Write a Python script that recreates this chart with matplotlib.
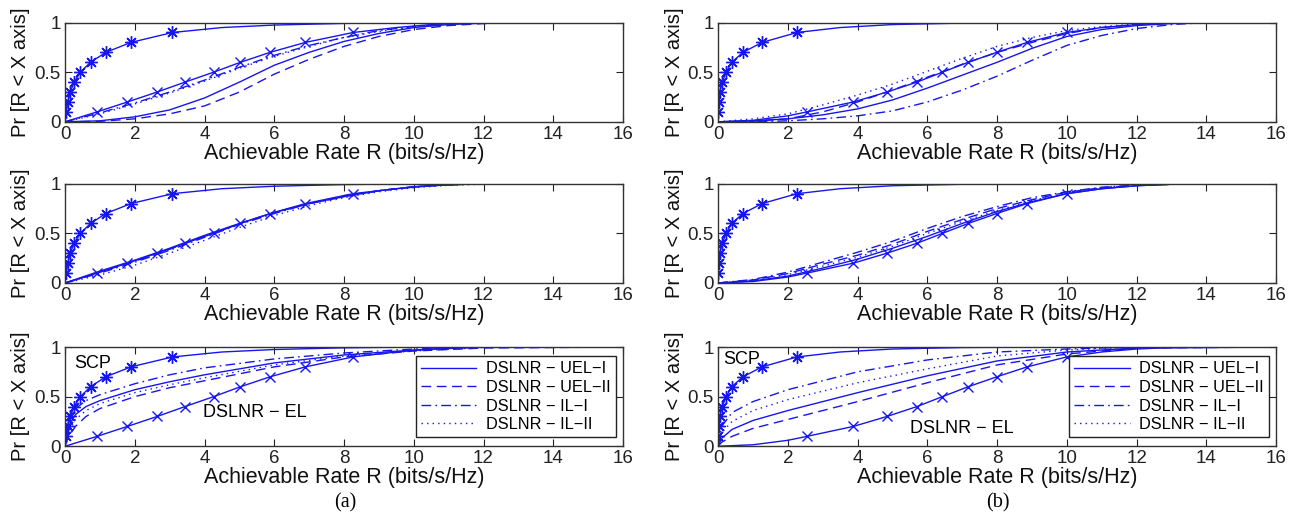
import matplotlib
matplotlib.use("Agg")
from matplotlib import pyplot as plt

plt.rcParams["font.family"] = ["Liberation Sans", "DejaVu Sans"]

LEVELS = [0.1, 0.2, 0.3, 0.4, 0.5, 0.6, 0.7, 0.8, 0.9]
LEGEND_LABELS = ["DSLNR \u2212 UEL\u2212I", "DSLNR \u2212 UEL\u2212II",
                 "DSLNR \u2212 IL\u2212I", "DSLNR \u2212 IL\u2212II"]

# ---- SCP / EL curves (markers sit at the 0.1 ... 0.9 quantiles)
SCP_A_MARK = [0.03, 0.08, 0.15, 0.26, 0.44, 0.73, 1.17, 1.89, 3.08]
SCP_A_X = [0, 0.03, 0.08, 0.15, 0.26, 0.44, 0.73, 1.17, 1.89, 3.08, 4.5, 6.0, 8.0, 10.0, 16.0]
SCP_A_Y = [0, 0.1, 0.2, 0.3, 0.4, 0.5, 0.6, 0.7, 0.8, 0.9, 0.95, 0.975, 0.992, 1.0, 1.0]
EL_A_MARK = [0.92, 1.79, 2.64, 3.44, 4.26, 5.03, 5.88, 6.89, 8.26]
EL_A_X = [0, 0.92, 1.79, 2.64, 3.44, 4.26, 5.03, 5.88, 6.89, 8.26, 9.5, 10.5, 11.5, 12.5, 16.0]
EL_A_Y = [0, 0.1, 0.2, 0.3, 0.4, 0.5, 0.6, 0.7, 0.8, 0.9, 0.95, 0.98, 0.995, 1.0, 1.0]

SCP_B_MARK = [0.005, 0.01, 0.04, 0.12, 0.23, 0.39, 0.71, 1.26, 2.26]
SCP_B_X = [0, 0.005, 0.01, 0.04, 0.12, 0.23, 0.39, 0.71, 1.26, 2.26, 3.5, 5.0, 7.0, 9.0, 16.0]
SCP_B_Y = [0, 0.1, 0.2, 0.3, 0.4, 0.5, 0.6, 0.7, 0.8, 0.9, 0.95, 0.98, 0.995, 1.0, 1.0]
EL_B_MARK = [2.55, 3.88, 4.84, 5.70, 6.43, 7.17, 7.99, 8.86, 9.99]
EL_B_X = [0, 1.0, 2.0, 2.55, 3.88, 4.84, 5.70, 6.43, 7.17, 7.99, 8.86, 9.99, 11.0, 12.0, 13.0, 14.0, 16.0]
EL_B_Y = [0, 0.015, 0.06, 0.1, 0.2, 0.3, 0.4, 0.5, 0.6, 0.7, 0.8, 0.9, 0.95, 0.98, 0.995, 1.0, 1.0]

# ---- scheme curves: order UEL-I, UEL-II, IL-I, IL-II
X_A12 = [0, 1, 2, 3, 4, 5, 6, 7, 8, 9, 10, 11, 12, 13, 16]
A1 = [
    [0, 0.01, 0.05, 0.12, 0.24, 0.40, 0.57, 0.70, 0.81, 0.89, 0.95, 0.98, 0.995, 1.0, 1.0],
    [0, 0.005, 0.03, 0.08, 0.16, 0.30, 0.48, 0.63, 0.76, 0.86, 0.93, 0.97, 0.99, 1.0, 1.0],
    [0, 0.09, 0.19, 0.30, 0.42, 0.55, 0.67, 0.77, 0.85, 0.92, 0.96, 0.985, 0.995, 1.0, 1.0],
    [0, 0.08, 0.18, 0.29, 0.41, 0.54, 0.66, 0.76, 0.85, 0.91, 0.96, 0.985, 0.995, 1.0, 1.0],
]
A2 = [
    [0, 0.12, 0.23, 0.35, 0.48, 0.60, 0.71, 0.80, 0.87, 0.93, 0.97, 0.99, 1.0, 1.0, 1.0],
    [0, 0.11, 0.22, 0.34, 0.47, 0.60, 0.71, 0.80, 0.88, 0.93, 0.97, 0.99, 1.0, 1.0, 1.0],
    [0, 0.10, 0.21, 0.33, 0.46, 0.59, 0.70, 0.80, 0.87, 0.93, 0.97, 0.99, 1.0, 1.0, 1.0],
    [0, 0.08, 0.18, 0.30, 0.43, 0.56, 0.68, 0.78, 0.86, 0.92, 0.96, 0.985, 0.995, 1.0, 1.0],
]
X_A3 = [0, 0.1, 0.3, 0.6, 1, 2, 3, 4, 6, 8, 10, 12, 16]
A3 = [
    [0, 0.20, 0.32, 0.40, 0.46, 0.57, 0.65, 0.72, 0.84, 0.92, 0.97, 1.0, 1.0],
    [0, 0.10, 0.20, 0.30, 0.38, 0.50, 0.59, 0.66, 0.80, 0.90, 0.96, 0.99, 1.0],
    [0, 0.25, 0.38, 0.46, 0.52, 0.63, 0.72, 0.79, 0.88, 0.94, 0.98, 1.0, 1.0],
    [0, 0.15, 0.27, 0.36, 0.43, 0.54, 0.62, 0.69, 0.82, 0.91, 0.96, 0.995, 1.0],
]
X_B12 = [0, 1, 2, 3, 4, 5, 6, 7, 8, 9, 10, 11, 12, 13, 14, 16]
B1 = [
    [0, 0.01, 0.03, 0.07, 0.13, 0.22, 0.34, 0.47, 0.60, 0.74, 0.86, 0.93, 0.97, 0.99, 1.0, 1.0],
    [0, 0.005, 0.03, 0.10, 0.20, 0.32, 0.45, 0.58, 0.70, 0.80, 0.89, 0.95, 0.98, 0.995, 1.0, 1.0],
    [0, 0.0, 0.01, 0.03, 0.06, 0.11, 0.20, 0.32, 0.46, 0.62, 0.77, 0.87, 0.94, 0.98, 1.0, 1.0],
    [0, 0.03, 0.08, 0.17, 0.27, 0.38, 0.51, 0.64, 0.76, 0.85, 0.92, 0.96, 0.985, 0.995, 1.0, 1.0],
]
B2 = [
    [0, 0.02, 0.07, 0.15, 0.24, 0.35, 0.47, 0.60, 0.72, 0.82, 0.90, 0.95, 0.98, 0.995, 1.0, 1.0],
    [0, 0.03, 0.095, 0.19, 0.28, 0.39, 0.52, 0.64, 0.75, 0.84, 0.915, 0.96, 0.985, 0.995, 1.0, 1.0],
    [0, 0.035, 0.11, 0.21, 0.31, 0.42, 0.55, 0.67, 0.77, 0.86, 0.92, 0.965, 0.985, 0.995, 1.0, 1.0],
    [0, 0.025, 0.085, 0.17, 0.26, 0.37, 0.50, 0.62, 0.73, 0.83, 0.91, 0.96, 0.985, 0.995, 1.0, 1.0],
]
X_B3 = [0, 0.1, 0.4, 1, 2, 4, 6, 8, 10, 12, 16]
B3 = [
    [0, 0.08, 0.17, 0.26, 0.36, 0.54, 0.71, 0.86, 0.95, 0.99, 1.0],
    [0, 0.04, 0.10, 0.18, 0.27, 0.45, 0.64, 0.82, 0.93, 0.99, 1.0],
    [0, 0.20, 0.34, 0.45, 0.57, 0.75, 0.87, 0.95, 0.98, 1.0, 1.0],
    [0, 0.14, 0.25, 0.36, 0.47, 0.64, 0.78, 0.91, 0.97, 1.0, 1.0],
]

BLUE = "#1616f0"
STYLES = ["-", (0, (7, 4)), (0, (7, 3, 1.2, 3)), (0, (1, 3))]
ASTERISK = (8, 2, 0)  # matlab-style '*' : spokes, not a filled star

fig = plt.figure(figsize=(13.01, 5.25), dpi=100)

LEFTS = [0.050, 0.552]
BOTTOMS = [0.768, 0.461, 0.150]
W, H = 0.4289, 0.189


def panel(ax, scp, el, xs, curves):
    for ys, ls in zip(curves, STYLES):
        ax.plot(xs, ys, color=BLUE, lw=1.0, linestyle=ls)
    ax.plot(scp[0], scp[1], color=BLUE, lw=1.0)
    ax.plot(scp[2], LEVELS, linestyle="none", marker=ASTERISK, ms=9, mew=1.0, color=BLUE)
    ax.plot(el[0], el[1], color=BLUE, lw=1.0)
    ax.plot(el[2], LEVELS, linestyle="none", marker="x", ms=7.5, mew=1.0, color=BLUE)
    ax.set_xlim(0, 16)
    ax.set_ylim(0, 1)
    ax.set_xticks(range(0, 17, 2))
    ax.set_yticks([0, 0.5, 1])
    ax.set_yticklabels(["0", "0.5", "1"])
    ax.tick_params(direction="in", top=True, right=True, labelsize=13.5, pad=3,
                   length=5, width=0.8, colors="#222222")
    for s in ax.spines.values():
        s.set_color("#333333")
        s.set_linewidth(1.0)
    ax.set_xlabel("Achievable Rate R (bits/s/Hz)", fontsize=15.5, labelpad=0, color="#111111")
    ax.set_ylabel("Pr [R < X axis]", fontsize=14.5, labelpad=3, color="#111111")


scp_a = (SCP_A_X, SCP_A_Y, SCP_A_MARK)
el_a = (EL_A_X, EL_A_Y, EL_A_MARK)
scp_b = (SCP_B_X, SCP_B_Y, SCP_B_MARK)
el_b = (EL_B_X, EL_B_Y, EL_B_MARK)

cols = [
    (scp_a, el_a, [(X_A12, A1), (X_A12, A2), (X_A3, A3)]),
    (scp_b, el_b, [(X_B12, B1), (X_B12, B2), (X_B3, B3)]),
]

for c, (scp, el, rows) in enumerate(cols):
    for r, (xs, curves) in enumerate(rows):
        ax = fig.add_axes([LEFTS[c], BOTTOMS[r], W, H])
        panel(ax, scp, el, xs, curves)
        if r == 2:
            handles = [plt.Line2D([], [], color=BLUE, lw=1.0, linestyle=ls) for ls in STYLES]
            leg = ax.legend(handles, LEGEND_LABELS, loc="upper right",
                            bbox_to_anchor=(0.987, 0.905), borderaxespad=0,
                            fontsize=11.8, handlelength=3.4, fancybox=False,
                            framealpha=1, edgecolor="#222222", borderpad=0.3,
                            labelspacing=0.22, handletextpad=0.6)
            leg.get_frame().set_linewidth(1.0)
            if c == 0:
                ax.text(0.25, 0.83, "SCP", fontsize=13, va="center")
                ax.text(3.95, 0.34, "DSLNR \u2212 EL", fontsize=13, va="center")
            else:
                ax.text(0.15, 0.87, "SCP", fontsize=13, va="center")
                ax.text(5.5, 0.18, "DSLNR \u2212 EL", fontsize=13, va="center")

fig.text(0.265, 0.042, "(a)", family="Liberation Serif", fontsize=14.5, ha="center", va="center")
fig.text(0.767, 0.042, "(b)", family="Liberation Serif", fontsize=14.5, ha="center", va="center")

fig.savefig("out.png", dpi=100)
